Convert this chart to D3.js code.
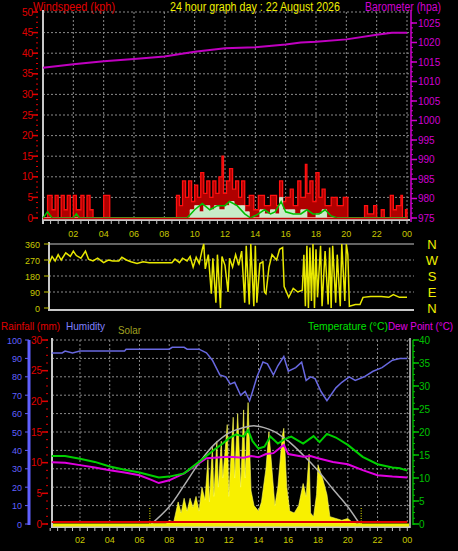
<!DOCTYPE html>
<html><head><meta charset="utf-8">
<script src="https://cdn.jsdelivr.net/npm/d3@7"></script>
<style>body{margin:0;background:#000}svg{display:block;font-family:"Liberation Sans",Arial,sans-serif}</style>
</head><body><div id="chart"></div>
<script>
// ---- data ----
const hourTicks = [2,4,6,8,10,12,14,16,18,20,22,24];
const hourLabels = ["02","04","06","08","10","12","14","16","18","20","22","00"];
const windTicks = [0,5,10,15,20,25,30,35,40,45,50];
const baroTicks = [975,980,985,990,995,1000,1005,1010,1015,1020,1025];
const dirTicks = [0,90,180,270,360];
const dirLetters = ["N","W","S","E","N"];
const humTicks = [0,10,20,30,40,50,60,70,80,90,100];
const rainTicks = [0,5,10,15,20,25,30];
const tempTicks = [0,5,10,15,20,25,30,35,40];

const barometer = [[0,1013.5],[2,1014.4],[4,1015.2],[6,1015.8],[8,1016.4],[10,1017.6],[12,1018.5],[14,1018.8],[16,1019.5],[17,1020],[18,1020.2],[20,1020.8],[22,1022],[23,1022.5],[24,1022.5]];
const windGust = [[0,0],[0.3,5.5],[0.6,2],[0.8,5.5],[1,0],[1.2,5.5],[1.4,2],[1.6,5.5],[1.8,0],[2,5.5],[2.2,2],[2.5,5.5],[2.7,0],[2.9,5.5],[3.1,2],[3.3,0],[4,5.5],[4.4,0],[8.8,5.5],[9,3],[9.2,9],[9.4,5],[9.6,9],[9.8,4],[10,8],[10.2,5],[10.4,11],[10.6,6],[10.8,9],[11,5],[11.2,9],[11.4,6],[11.6,10],[11.8,15],[11.9,6],[12.1,9],[12.3,12],[12.5,7],[12.7,9],[12.9,5],[13.1,9],[13.3,3],[13.6,5.5],[13.9,2],[14.2,5.5],[14.6,3],[15,5.5],[15.4,3],[15.6,9],[15.8,4],[16,5],[16.3,7],[16.5,3],[16.8,9],[17,5],[17.3,13],[17.4,6],[17.6,9],[17.8,4],[18,11],[18.2,5],[18.4,7],[18.6,3],[19,5],[19.4,3],[19.8,5],[20.1,0],[21.2,3],[21.4,1],[21.8,3],[22,0],[22.3,2],[22.5,0],[22.9,5.5],[23.1,2],[23.3,3],[23.6,5.5],[23.7,0],[23.9,2],[24,0]];
const windSpeed = [[0,0],[9.5,0],[9.7,2],[10,3],[10.3,1.5],[10.6,3],[11,2],[11.3,3],[11.6,2],[12,3],[12.3,4],[12.6,3],[13,3],[13.3,1.5],[13.6,0],[14.1,0],[14.3,2],[14.6,1],[15,2],[15.3,1],[15.6,5],[15.8,2],[16.2,2],[16.6,1],[17,2],[17.4,0],[18,1],[18.4,2],[18.7,0],[24,0]];
const windAvg = [[0,0],[0.3,1.5],[0.6,0],[2,0],[2.2,1],[2.4,0],[9.5,0],[10,2],[10.5,3.5],[11,2],[11.5,3],[12,3],[12.3,4],[12.8,3],[13.3,1],[13.7,0],[14.2,1],[14.6,2],[15,1],[15.3,1.5],[15.7,4],[16,1.5],[16.5,1],[17,1],[17.4,2],[17.8,1],[18.2,1],[18.6,2],[19,0.5],[19.4,0],[24,0]];
const windDir = [[0.4,250],[0.6,290],[0.8,265],[1,300],[1.2,270],[1.5,310],[1.8,290],[2,320],[2.2,295],[2.5,280],[2.8,320],[3,275],[3.3,265],[3.6,280],[4,255],[4.3,270],[4.6,265],[5,265],[5.2,285],[5.5,270],[5.8,260],[6.2,250],[6.6,260],[7,255],[8.5,255],[8.7,275],[9,255],[9.2,280],[9.5,265],[9.7,290],[9.9,230],[10.1,285],[10.3,250],[10.5,330],[10.6,360],[10.7,220],[10.9,300],[11.1,80],[11.2,280],[11.4,30],[11.5,300],[11.7,0],[11.8,290],[12,240],[12.2,90],[12.3,280],[12.5,230],[12.7,300],[12.9,240],[13.1,320],[13.3,30],[13.4,350],[13.6,20],[13.7,360],[13.9,10],[14,350],[14.1,30],[14.3,250],[14.5,260],[14.6,90],[14.7,80],[14.9,230],[15.1,300],[15.4,270],[15.6,330],[15.8,340],[15.9,120],[16.2,60],[16.5,110],[16.8,90],[17.1,100],[17.2,300],[17.3,10],[17.4,350],[17.5,0],[17.6,340],[17.7,40],[17.8,360],[17.9,0],[18,330],[18.1,60],[18.3,350],[18.4,10],[18.6,320],[18.8,20],[18.9,340],[19,0],[19.1,350],[19.3,30],[19.4,300],[19.6,10],[19.7,360],[19.9,40],[20,360],[20.1,300],[20.2,10],[20.6,20],[20.9,20],[21.1,60],[21.6,65],[22.3,65],[22.8,60],[23.1,75],[23.5,60],[24,60]];
const humidity = [[0.1,93],[0.8,93],[1,94],[1.5,93],[2,94],[5,94],[5.1,95],[8,95],[8.2,96],[9,96],[9.2,95],[10,95],[10.5,93],[10.9,89],[11.4,81],[11.8,80],[12.1,76],[12.4,77],[12.8,70],[13.1,72],[13.4,67],[13.6,72],[13.9,80],[14.3,88],[14.6,87],[15,81],[15.3,86],[15.7,91],[16,83],[16.5,85],[16.9,88],[17.2,78],[17.5,80],[17.8,79],[18.2,72],[18.6,67],[19.2,74],[19.6,77],[20.1,80],[20.5,78],[21.1,80],[21.7,83],[22.3,85],[23,89],[23.5,90],[24,90]];
const temperature = [[0.1,14.8],[1,14.8],[2,14.2],[3,13.5],[4,12.5],[5,11.8],[6,11.2],[7.3,10.1],[8,10.3],[9,11],[10,13.5],[11,16.1],[11.6,17.5],[12,18.6],[12.5,19.5],[13,19],[13.3,20.4],[13.6,18],[14,16.4],[14.4,16.8],[14.8,19],[15.3,17.5],[15.8,18.5],[16.2,19],[17,17.5],[17.7,19.1],[18.1,17.8],[18.6,19.6],[19.2,18.8],[20,17.2],[21,14.6],[22,13],[23,12.3],[23.5,12.1],[24,11.6]];
const dewPoint = [[0.1,13.4],[1,13.3],[2,12.8],[3,12.3],[4,11.7],[5,11.2],[6,10.6],[6.8,9.6],[7.3,8.9],[8,9.5],[9,11],[10,13.2],[10.5,14.3],[11,14.4],[12,14.6],[13,14.4],[13.5,14.8],[14,14.5],[14.5,15.2],[15,15.4],[15.7,17.2],[16,15.2],[17,14.6],[17.5,14.8],[18,14.3],[19,13.5],[20,13],[21,11.7],[22,10.6],[23,10.3],[24,10.1]];
const solar = [[6.8,0],[7.8,0],[8,20],[8.3,10],[8.6,120],[8.8,60],[9,140],[9.2,70],[9.4,140],[9.6,90],[9.8,150],[10,70],[10.2,200],[10.4,130],[10.6,350],[10.7,120],[10.9,420],[11,150],[11.2,450],[11.3,200],[11.5,450],[11.6,250],[11.9,540],[12,150],[12.3,580],[12.4,250],[12.6,600],[12.8,200],[13,620],[13.1,250],[13.3,660],[13.5,180],[13.7,100],[14,70],[14.2,120],[14.5,300],[14.7,500],[14.9,300],[15.1,100],[15.3,200],[15.6,480],[15.7,520],[15.9,200],[16.1,70],[16.4,60],[16.7,100],[17,220],[17.2,150],[17.4,380],[17.5,60],[17.7,40],[17.9,160],[18,320],[18.3,250],[18.6,160],[18.8,40],[19.2,30],[19.6,20],[20,30],[20.3,10],[20.6,0],[20.9,0]];
const solarMax = [[6.8,0],[8,94],[9,210],[10,331],[11,430],[12,494],[13,525],[13.8,533],[15,505],[16,450],[17,375],[18,290],[19,190],[20,94],[20.8,0]];
const rainfall = [[0.1,0.1],[24,0.1]];
const sunTimes = [6.7, 20.9];

// ---- layout ----
const svg = d3.select("#chart").append("svg").attr("width",458).attr("height",551).style("background","#000");
const grid = "#8a8a8a", border = "#c8c8c8", tickCol = "#c8c800";

const xTop = d3.scaleLinear().domain([0,24]).range([43,407]);
const yWind = d3.scaleLinear().domain([0,50]).range([218,12]);
const yBaro = d3.scaleLinear().domain([975,1025]).range([218,23]);
const yDir = d3.scaleLinear().domain([0,360]).range([308,244]);
const xBot = d3.scaleLinear().domain([0,24]).range([50.2,407.3]);
const yHum = d3.scaleLinear().domain([0,100]).range([524,340]);
const yRain = d3.scaleLinear().domain([0,30]).range([524,340]);
const yTemp = d3.scaleLinear().domain([0,40]).range([524,340]);
const ySolar = d3.scaleLinear().domain([0,1000]).range([524,340]);

function text(x,y,s,col,size,anchor,len){
  const t = svg.append("text").attr("x",x).attr("y",y).attr("fill",col)
    .attr("font-size",size).attr("text-anchor",anchor||"start").text(s);
  if (len) t.attr("textLength",len).attr("lengthAdjust","spacingAndGlyphs");
  return t;
}
function hline(x1,x2,y,col,dash,w){
  svg.append("line").attr("x1",x1).attr("x2",x2).attr("y1",y).attr("y2",y)
    .attr("stroke",col).attr("stroke-width",w||1).attr("stroke-dasharray",dash||null);
}
function vline(x,y1,y2,col,dash,w){
  svg.append("line").attr("x1",x).attr("x2",x).attr("y1",y1).attr("y2",y2)
    .attr("stroke",col).attr("stroke-width",w||1).attr("stroke-dasharray",dash||null);
}
// left axis with labels and minor ticks
function leftAxis(scale,ticks,x,col,labelX){
  const [d0,d1] = scale.domain(), step = ticks[1]-ticks[0];
  for (let v=d0; v<=d1+1e-9; v+=step/4) hline(x-2,x,scale(v),col);
  ticks.forEach(v=>{ hline(x-6,x,scale(v),col,null,1.5);
    text(labelX,scale(v)+3.5,v,col,10,"end"); });
}
function rightAxis(scale,ticks,x,col,labelX){
  const [d0,d1] = scale.domain(), step = ticks[1]-ticks[0];
  for (let v=d0; v<=d1+1e-9; v+=step/4) hline(x,x+2,scale(v),col);
  ticks.forEach(v=>{ hline(x,x+6,scale(v),col,null,1.5);
    text(labelX,scale(v)+3.5,v,col,10,"start"); });
}

// ---- top panel: wind + barometer ----
text(33,11,"Windspeed (kph)","#e00000",12,"start",82);
text(170,11,"24 hour graph day : 22 August 2026","#f0f000",12,"start",170);
text(365,11,"Barometer (hpa)","#d000d0",12,"start",76);
windTicks.forEach(v=>{ if(v>0) hline(43,410,yWind(v),grid,"2,2"); });
hourTicks.forEach(h=>vline(xTop(h),12,220,grid,"2,2"));
vline(43,10,224,border,null,2);
hline(43,410,220,border,null,2);
for (let h=0; h<=24; h+=0.5) vline(xTop(h),221,224,border);
leftAxis(yWind,windTicks,38,"#e00000",33);
vline(411,10,222,"#d000d0",null,1.5);
rightAxis(yBaro,baroTicks,411,"#d000d0",418);

svg.append("path").datum(windGust).attr("fill","#b00000").attr("stroke","#ff1010").attr("stroke-width",1.3)
  .attr("d",d3.area().x(d=>xTop(d[0])).y0(yWind(0)).y1(d=>yWind(d[1])).curve(d3.curveStepAfter));
svg.append("path").datum(windSpeed).attr("fill","#c8ecc8").attr("stroke","#e0f8e0").attr("stroke-width",0.8)
  .attr("d",d3.area().x(d=>xTop(d[0])).y0(yWind(0)).y1(d=>yWind(d[1])).curve(d3.curveStepAfter));
svg.append("path").datum(windAvg).attr("fill","none").attr("stroke","#00c000").attr("stroke-width",1.5)
  .attr("d",d3.line().x(d=>xTop(d[0])).y(d=>yWind(d[1])));
hline(43,408,yWind(0)+0.5,"#c00000",null,1.5);
svg.append("path").datum(barometer).attr("fill","none").attr("stroke","#c000c0").attr("stroke-width",2)
  .attr("d",d3.line().x(d=>xTop(d[0])).y(d=>yBaro(d[1])));

// x labels between panels
hourTicks.forEach((h,i)=>text(xTop(h),237,hourLabels[i],tickCol,9,"middle"));

// ---- wind direction panel ----
dirTicks.forEach(v=>{ if(v>0 && v<360) hline(49,414,yDir(v),grid,"2,2"); });
hline(49,414,yDir(360),border,null,1);
vline(49,242,311,border,null,2);
hline(49,414,310,border,null,2);
dirTicks.forEach(v=>{ hline(44,49,yDir(v),"#c8c800"); text(40,yDir(v)+3.5,v,tickCol,9,"end"); });
svg.append("path").datum(windDir).attr("fill","none").attr("stroke","#e8e800").attr("stroke-width",1.5)
  .attr("d",d3.line().x(d=>xTop(d[0])).y(d=>yDir(d[1])));
dirLetters.forEach((l,i)=>text(432,yDir(360-i*90)+5,l,"#f0f000",13,"middle"));

// ---- bottom panel ----
text(1,330,"Rainfall (mm)","#e00000",11,"start",59);
text(66,330,"Humidity","#8080ff",11,"start",39);
text(118,334,"Solar","#a0a020",11,"start",23);
text(308,330,"Temperature (°C)","#00e000",11,"start",80);
text(388,330,"Dew Point (°C)","#e000e0",11,"start",65);

humTicks.forEach(v=>{ if(v>0) hline(52,410,yHum(v),grid,"2,2"); });
hourTicks.forEach(h=>vline(xBot(h),340,526,grid,"2,2"));
vline(410,338,528,border,null,1.5);
vline(52,338,528,border,null,2);
hline(52,410,527,border,null,2);
for (let h=0; h<=24; h+=0.5) vline(xBot(h),528,531,border);

vline(29,340,525,"#6060ff",null,3);
humTicks.forEach(v=>{ hline(25,29,yHum(v),"#6060ff"); text(22,yHum(v)+3.5,v,"#6060ff",9,"end"); });
leftAxis(yRain,rainTicks,48,"#e00000",42);
vline(413,340,525,"#00b000",null,1.5);
rightAxis(yTemp,tempTicks,413,"#00c000",419);

// solar
svg.append("path").datum(solar).attr("fill","#f8f000").attr("stroke","#ffff60").attr("stroke-width",0.6)
  .attr("d",d3.area().x(d=>xBot(d[0])).y0(ySolar(0)).y1(d=>ySolar(d[1])));
svg.append("path").datum(solarMax).attr("fill","none").attr("stroke","#b0b0b0").attr("stroke-width",1.5)
  .attr("d",d3.line().x(d=>xBot(d[0])).y(d=>ySolar(d[1])).curve(d3.curveCatmullRom));
sunTimes.forEach(h=>vline(xBot(h),508,524,"#f0f000","1,1.5",1));
hline(53,409,525,"#f0f000",null,3);
svg.append("path").datum(rainfall).attr("fill","none").attr("stroke","#e00000").attr("stroke-width",2)
  .attr("d",d3.line().x(d=>xBot(d[0])).y(d=>yRain(d[1])-1.5));

svg.append("path").datum(humidity).attr("fill","none").attr("stroke","#6868e0").attr("stroke-width",1.5)
  .attr("d",d3.line().x(d=>xBot(d[0])).y(d=>yHum(d[1])));
svg.append("path").datum(dewPoint).attr("fill","none").attr("stroke","#e000e0").attr("stroke-width",2)
  .attr("d",d3.line().x(d=>xBot(d[0])).y(d=>yTemp(d[1])));
svg.append("path").datum(temperature).attr("fill","none").attr("stroke","#00d000").attr("stroke-width",2)
  .attr("d",d3.line().x(d=>xBot(d[0])).y(d=>yTemp(d[1])));

hourTicks.forEach((h,i)=>text(xBot(h),543,hourLabels[i],tickCol,9,"middle"));
</script></body></html>
